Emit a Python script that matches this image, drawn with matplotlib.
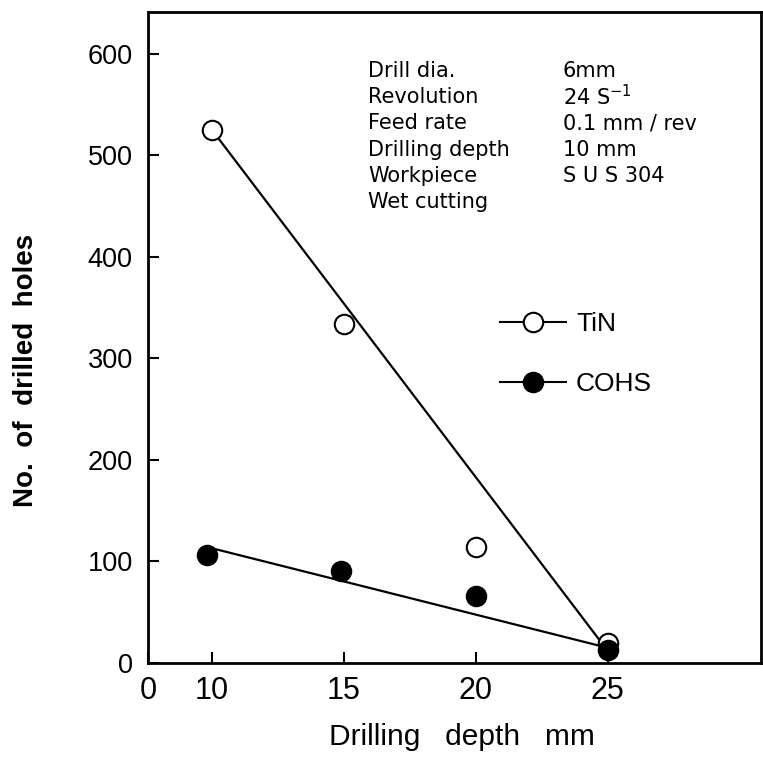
import matplotlib
matplotlib.use("Agg")
import matplotlib.pyplot as plt
from matplotlib.lines import Line2D

plt.rcParams['font.family'] = ['Liberation Sans', 'DejaVu Sans']

# Data
depth = [10, 15, 20, 25]
tin = [525, 334, 114, 20]
cohs_x = [9.8, 14.9, 20.0, 25.0]
cohs = [106, 91, 66, 13]
fit_x = [10, 25]
fit_tin = [525, 12]
fit_cohs = [113, 15]

x_ticks = [10, 15, 20, 25]
y_ticks = [0, 100, 200, 300, 400, 500, 600]

cond_names = ["Drill dia.", "Revolution", "Feed rate", "Drilling depth", "Workpiece", "Wet cutting"]
cond_vals = ["6mm", r"24 S$^{-1}$", "0.1 mm / rev", "10 mm", "S U S 304", ""]

fig = plt.figure(figsize=(7.63, 7.58), dpi=100)
ax = fig.add_axes([0.194, 0.1253, 0.803, 0.859])

xmin, xmax = 7.58, 30.8
ax.set_xlim(xmin, xmax)
ax.set_ylim(0, 641)

ax.plot(fit_x, fit_tin, color='black', lw=1.6, zorder=2)
ax.plot(fit_x, fit_cohs, color='black', lw=1.6, zorder=2)
ax.plot(depth, tin, 'o', ms=14, mfc='white', mec='black', mew=1.5, zorder=3)
ax.plot(cohs_x, cohs, 'o', ms=14, mfc='black', mec='black', mew=1.5, zorder=4)

for s in ax.spines.values():
    s.set_linewidth(2.0)

ax.set_xticks([xmin] + x_ticks)
ax.set_xticklabels(["0"] + [str(v) for v in x_ticks])
ax.set_yticks(y_ticks)
ax.tick_params(direction='in', length=8, width=1.5)
ax.tick_params(axis='x', labelsize=22, pad=9)
ax.tick_params(axis='y', labelsize=19.5, pad=11)

ax.set_xlabel("Drilling   depth   mm", fontsize=21.5)
ax.xaxis.set_label_coords(0.512, -0.092)
ax.set_ylabel("No.  of  drilled  holes", fontsize=20, fontweight='bold')
ax.yaxis.set_label_coords(-0.178, 0.45)

# Conditions text
for i, (n, v) in enumerate(zip(cond_names, cond_vals)):
    y = 0.91 - i * 0.0405
    ax.text(0.359, y, n, transform=ax.transAxes, fontsize=15, va='center',
            family=['DejaVu Sans'])
    ax.text(0.677, y, v, transform=ax.transAxes, fontsize=15, va='center',
            family=['DejaVu Sans'])

# Legend
h1 = Line2D([], [], color='black', lw=1.5, marker='o', ms=14, mfc='white', mec='black', mew=1.5)
h2 = Line2D([], [], color='black', lw=1.5, marker='o', ms=14, mfc='black', mec='black', mew=1.5)
ax.legend([h1, h2], ["TiN", "COHS"], loc='upper left', bbox_to_anchor=(0.535, 0.575),
          frameon=False, fontsize=19, handlelength=2.5, labelspacing=1.35, handletextpad=0.4)

fig.savefig("out.png", dpi=100)
